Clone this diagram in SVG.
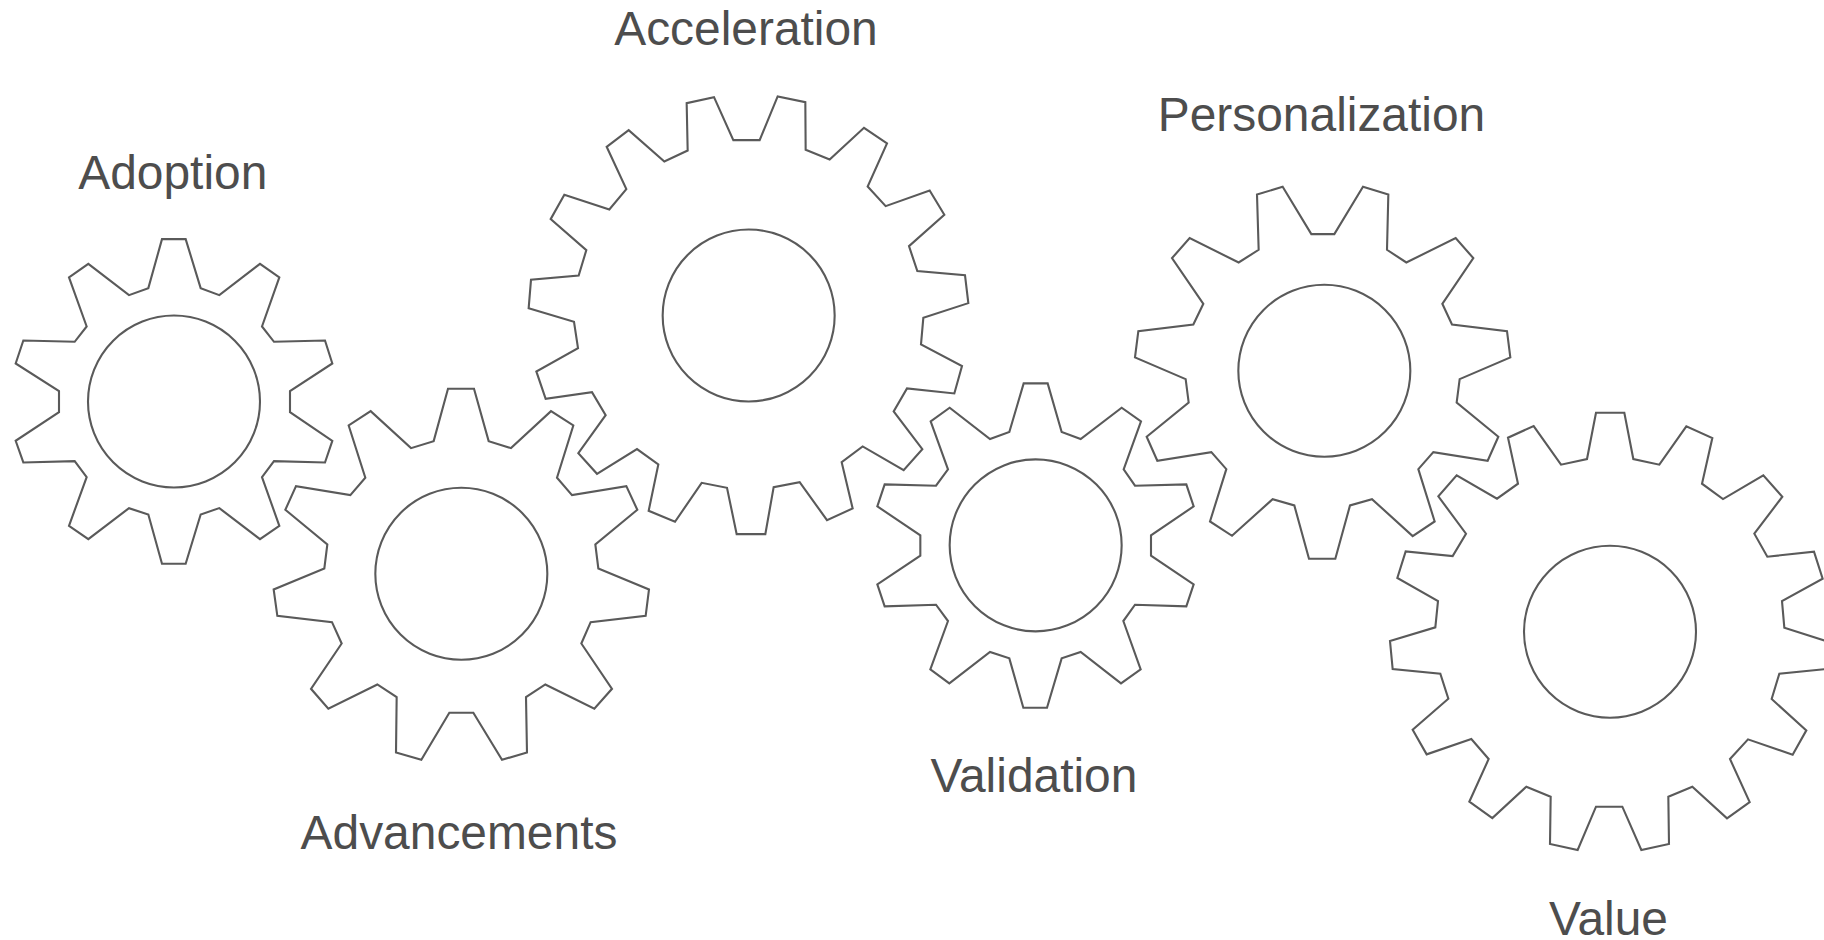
<svg xmlns="http://www.w3.org/2000/svg" width="1824" height="940" viewBox="0 0 1824 940">
<style>
.gear{fill:#fff;stroke:#5a5a5a;stroke-width:2.1;stroke-linejoin:miter;vector-effect:non-scaling-stroke}
.lbl{font-family:"Liberation Sans",Arial,sans-serif;font-size:47.9px;fill:#4d4d4d;text-anchor:middle}
</style>
<rect width="1824" height="940" fill="#fff"/>
<g id="adoption">
<g transform="translate(0 139.8) scale(0.33333)">
<polygon class="gear" points="486,298 557,298 602,445 658,466 780,372 838,413 786,560 822,606 975,602 997,671 870,754 870,817 997,903 975,968 822,964 786,1012 838,1158 780,1198 658,1105 602,1124 557,1272 486,1272 445,1124 387,1105 265,1198 207,1158 260,1012 224,964 70,968 47,903 177,817 177,754 47,671 70,602 224,606 260,560 207,413 265,372 387,466 445,445"/>
<circle class="gear" cx="522" cy="785" r="258"/>
</g>
<text class="lbl" x="172.8" y="188.5">Adoption</text>
</g>
<g id="advancements">
<g transform="translate(260 379.8) scale(0.33333)">
<polygon class="gear" points="564,27 642,27 686,184 753,205 873,94 940,137 891,294 936,346 1099,319 1132,390 1006,494 1015,566 1167,629 1157,708 992,727 964,791 1056,927 1003,987 856,914 798,952 801,1118 726,1140 640,999 568,999 484,1140 408,1118 410,952 352,914 205,987 153,927 245,791 216,727 52,708 41,629 193,566 202,494 76,390 108,319 271,346 316,294 266,137 332,94 453,205 521,184"/>
<circle class="gear" cx="604" cy="582" r="258"/>
</g>
<text class="lbl" x="459" y="849.4">Advancements</text>
</g>
<g id="acceleration">
<g transform="translate(520 79.8) scale(0.33333)">
<polygon class="gear" points="582,52 640,181 719,181 773,50 856,67 857,210 929,239 1032,144 1101,191 1043,320 1097,379 1229,332 1273,405 1167,499 1192,574 1335,586 1345,670 1210,714 1203,794 1326,859 1303,941 1161,926 1121,995 1207,1108 1151,1171 1028,1100 965,1147 998,1286 921,1321 839,1207 761,1222 736,1363 650,1363 621,1224 545,1209 465,1326 386,1293 415,1154 351,1108 231,1182 175,1120 257,1006 216,937 77,957 49,875 174,805 162,726 26,685 33,600 176,587 199,511 92,418 133,345 268,389 319,328 260,201 326,151 433,245 503,212 500,70"/>
<circle class="gear" cx="686" cy="707" r="258"/>
</g>
<text class="lbl" x="746" y="44.5">Acceleration</text>
</g>
<g id="validation">
<g transform="translate(860 369.7) scale(0.33333)">
<polygon class="gear" points="491,41 563,41 605,187 662,208 785,114 843,155 791,299 825,348 979,344 1001,410 873,497 873,558 1001,644 979,710 825,705 790,754 842,899 783,941 662,847 605,866 561,1014 490,1014 448,866 390,847 268,941 211,899 264,754 228,705 74,710 52,644 181,558 181,497 52,410 74,344 228,348 264,299 212,155 269,114 390,208 448,187"/>
<circle class="gear" cx="527" cy="527" r="258"/>
</g>
<text class="lbl" x="1034" y="791.8">Validation</text>
</g>
<g id="personalization">
<g transform="translate(1120 169.8) scale(0.33333)">
<polygon class="gear" points="488,51 574,193 643,193 729,51 805,74 801,240 859,278 1007,205 1060,265 967,402 996,464 1161,484 1171,563 1019,628 1010,698 1135,801 1103,873 940,847 895,898 944,1055 878,1099 756,988 690,1007 646,1167 567,1167 523,1007 458,988 336,1098 270,1055 319,898 274,847 112,873 80,801 206,698 197,628 45,563 55,484 220,464 250,402 156,265 209,205 356,278 416,240 411,74"/>
<circle class="gear" cx="613" cy="603" r="258"/>
</g>
<text class="lbl" x="1321.5" y="131">Personalization</text>
</g>
<g id="value">
<g transform="translate(1380 399.7) scale(0.33333)">
<polygon class="gear" points="648,39 733,39 760,178 838,195 919,80 997,115 966,252 1029,298 1150,227 1207,291 1123,402 1162,471 1302,456 1328,537 1206,604 1213,684 1345,726 1338,808 1198,822 1175,898 1279,992 1238,1065 1104,1019 1050,1078 1109,1207 1041,1256 937,1161 865,1191 867,1333 784,1351 727,1221 648,1221 593,1351 510,1333 512,1191 439,1161 337,1255 268,1206 326,1078 274,1018 140,1064 98,990 205,897 181,822 38,808 30,724 166,683 174,604 52,535 77,455 218,469 258,402 175,290 230,227 351,297 414,252 384,114 461,79 543,195 621,178"/>
<circle class="gear" cx="690" cy="696" r="258"/>
</g>
<text class="lbl" x="1608.5" y="935">Value</text>
</g>
<g id="connectors"/>
</svg>
